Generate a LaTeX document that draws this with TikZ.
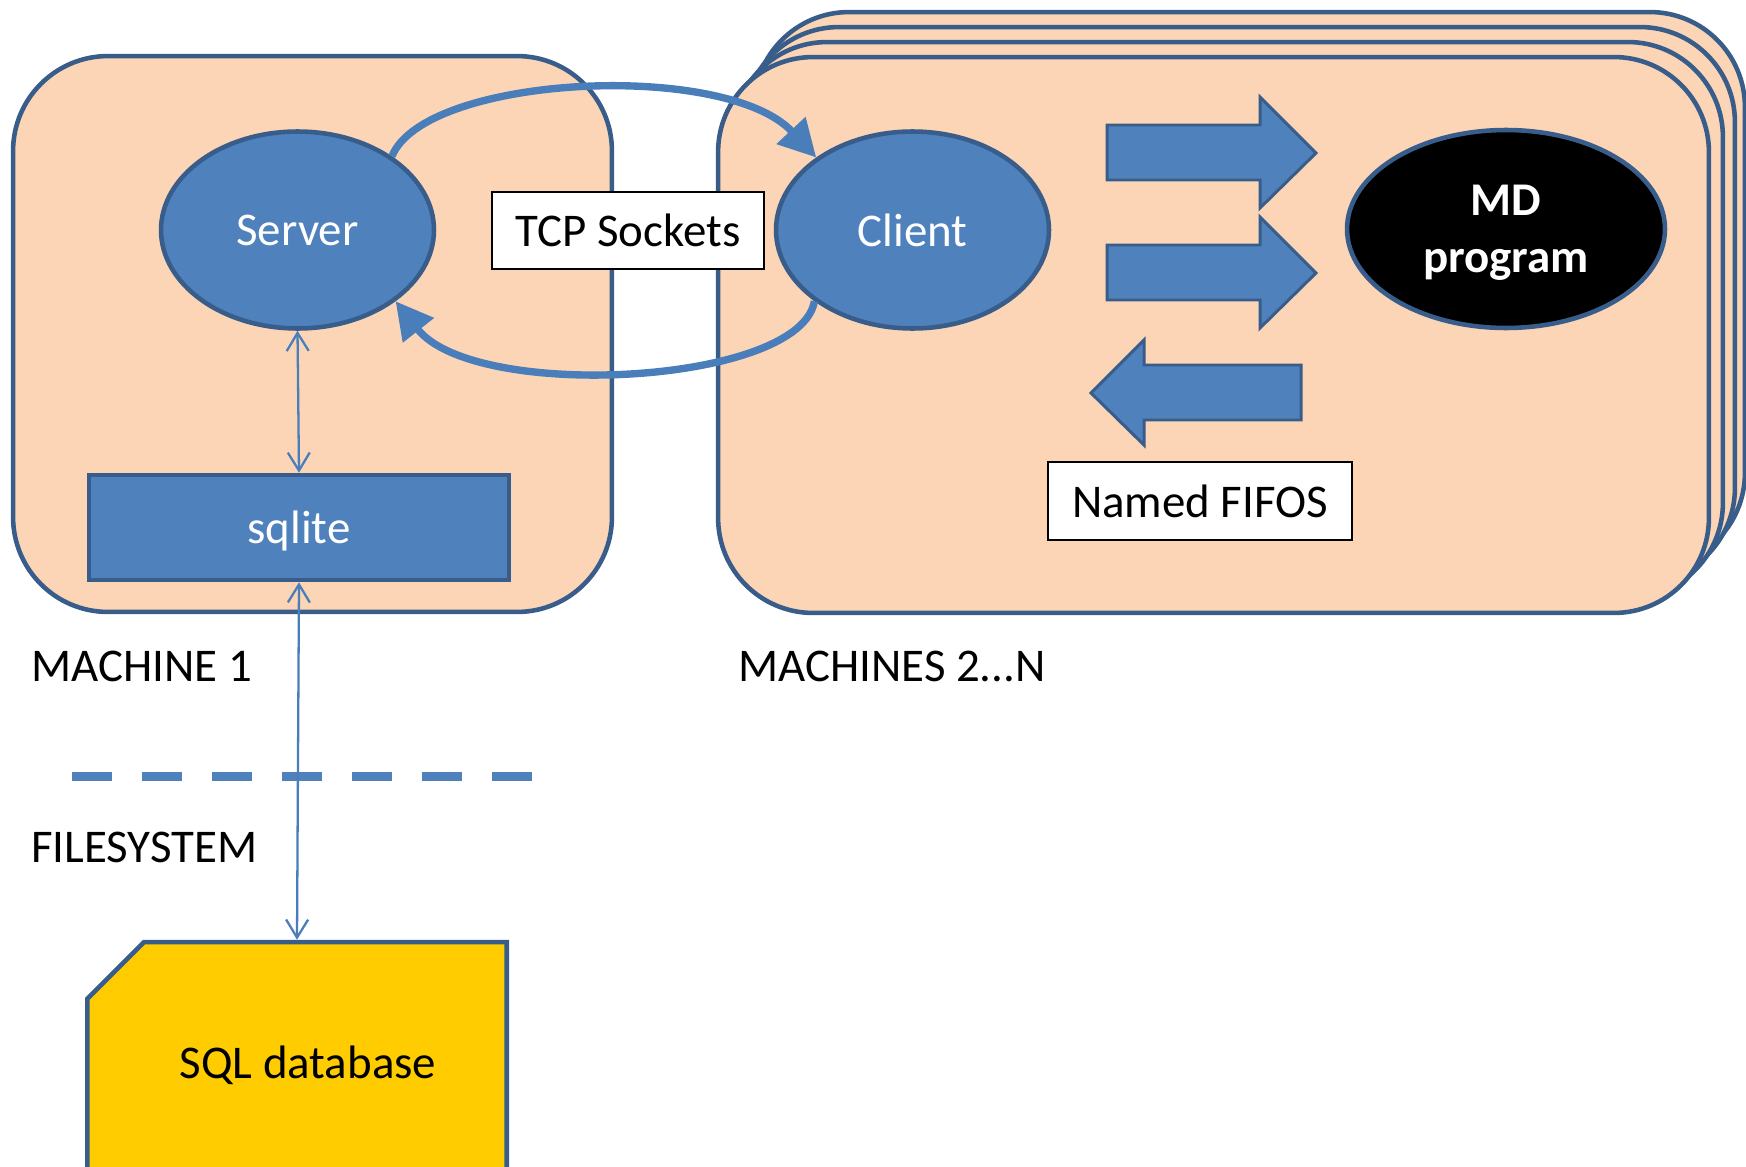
\documentclass[tikz,border=0pt]{standalone}
\usepackage{fontspec}
\setmainfont{Carlito}
\usetikzlibrary{shapes.geometric,shapes.misc,arrows.meta}
\definecolor{peach}{HTML}{FBD5B5}
\definecolor{bfill}{HTML}{4F81BD}
\definecolor{bline}{HTML}{385D8A}
\definecolor{conn}{HTML}{4A7EBB}
\definecolor{dbyellow}{HTML}{FFCC00}
\begin{document}
\begin{tikzpicture}[x=0.02cm,y=-0.02cm,
  every node/.style={font=\fontsize{26.7pt}{32.6pt}\selectfont, inner sep=0pt},
  machine/.style={draw=bline, line width=2.6pt, fill=peach, rounded corners=1.9cm, minimum height=11.12cm},
  blueell/.style={ellipse, draw=bline, line width=2.6pt, fill=bfill, text=white, minimum width=5.46cm, minimum height=3.94cm},
  labelbox/.style={draw=black, line width=1.1pt, fill=white},
  blockarrow/.style={draw=bline, line width=1.7pt, fill=bfill, line join=miter},
  thinconn/.style={draw=conn, line width=1.3pt, {Straight Barb[length=0.36cm,width=0.44cm]}-{Straight Barb[length=0.36cm,width=0.44cm]}},
  thickconn/.style={draw=conn, line width=4.2pt, -{Triangle[length=0.74cm,width=0.76cm]}},
  caption/.style={anchor=base west}
]
\useasboundingbox (0,0) rectangle (1746,1166);

% machines 2..N stack (back to front)
\node[machine, minimum width=19.82cm] (stack3) at (1249.5,290) {};
\node[machine, minimum width=19.82cm] (stack2) at (1239.5,305) {};
\node[machine, minimum width=19.82cm] (stack1) at (1227.5,320) {};
\node[machine, minimum width=19.82cm] (front) at (1213.5,335) {};
% machine 1
\node[machine, minimum width=11.98cm] (m1) at (312.5,334) {};

% dashed filesystem boundary
\draw[draw=bfill, line width=0.18cm, dash pattern=on 0.8cm off 0.6cm] (72,776) -- (534,776);

% nodes
\node[blueell] (server) at (297.5,230) {Server};
\node[blueell] (client) at (912.5,230) {Client};
\node[ellipse, draw=bline, line width=2.6pt, fill=black, text=white, minimum width=6.36cm, minimum height=3.96cm, align=center, text depth=0pt, font=\fontsize{26.7pt}{32.6pt}\selectfont\bfseries] (md) at (1506,229) {MD\\program};
\node[rectangle, draw=bline, line width=2.6pt, fill=bfill, text=white, text depth=0pt, minimum width=8.4cm, minimum height=2.1cm] (sqlite) at (299,527.5) {sqlite};
\node[labelbox, minimum width=5.44cm, minimum height=1.54cm] (tcp) at (628,230.5) {TCP Sockets};
\node[labelbox, minimum width=6.08cm, minimum height=1.56cm] (fifo) at (1200,501) {Named FIFOS};
\node[chamfered rectangle, chamfered rectangle corners=north west, chamfered rectangle xsep=0.75cm, chamfered rectangle ysep=0.75cm, draw=bline, line width=2.6pt, fill=dbyellow, minimum width=8.39cm, minimum height=4.92cm] (db) at (297,1065) {\hspace*{0.44cm}SQL database};

% captions
\node[caption] (cap1) at (31,681) {MACHINE 1};
\node[caption] (cap2) at (738,681) {MACHINES 2...N};
\node[caption] (cap3) at (31,862) {FILESYSTEM};

% block arrows between client and MD program
\draw[blockarrow] (1107,125) -- (1260,125) -- (1260,97) -- (1316,153) -- (1260,208) -- (1260,180) -- (1107,180) -- cycle;
\draw[blockarrow] (1107,245) -- (1260,245) -- (1260,217) -- (1316,273) -- (1260,328) -- (1260,300) -- (1107,300) -- cycle;
\draw[blockarrow] (1301,365) -- (1144,365) -- (1144,340) -- (1091,393) -- (1144,445) -- (1144,420) -- (1301,420) -- cycle;

% connectors
\draw[thinconn] (server.south) -- (sqlite.north);
\draw[thinconn] (sqlite.south) -- (db.north);
\draw[thickconn] (server.38) .. controls (425,75) and (725,60) .. (client.143);
\draw[thickconn] (client.216) .. controls (800,385) and (475,402) .. (server.-36);
\end{tikzpicture}
\end{document}
